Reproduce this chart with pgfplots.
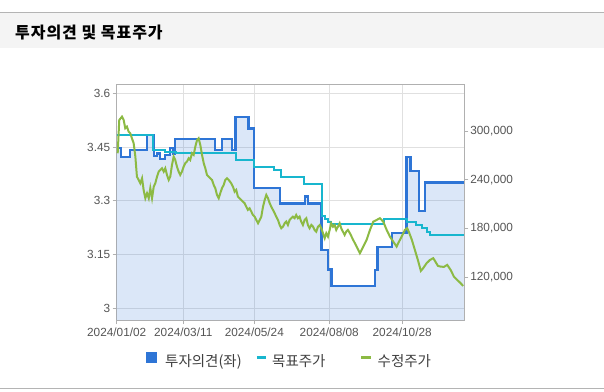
\documentclass[border=0pt]{standalone}
\usepackage{fontspec}
\setmainfont{Liberation Sans}
\newfontfamily\kr{Noto Sans CJK KR}
\usepackage{pgfplots}
\pgfplotsset{compat=1.18}
\definecolor{opblue}{RGB}{46,117,214}
\definecolor{tpcyan}{RGB}{24,182,206}
\definecolor{prgreen}{RGB}{140,186,68}
\definecolor{gridc}{RGB}{224,224,224}
\definecolor{framec}{RGB}{176,176,176}
\definecolor{tickc}{RGB}{85,85,85}
\definecolor{bandc}{RGB}{244,244,244}
\definecolor{linec}{RGB}{180,180,180}
\begin{document}
\begin{tikzpicture}
\path[use as bounding box, fill=white] (0,0) rectangle (604bp,-392bp);
\fill[bandc] (0,-12.5bp) rectangle (604bp,-48bp);
\draw[linec, line width=1bp] (0,-12.5bp) -- (604bp,-12.5bp);
\draw[linec, line width=1bp] (0,-388bp) -- (604bp,-388bp);
\node[anchor=west, inner sep=0] at (15bp,-32.5bp) {\kr\bfseries\fontsize{16bp}{18bp}\selectfont\addfontfeature{LetterSpace=6}투자의견 및 목표주가};
\begin{axis}[
  at={(116.7bp,-84.3bp)}, anchor=north west, scale only axis,
  width=347.6bp, height=235.7bp,
  xmin=0, xmax=244, ymin=2.968, ymax=3.625,
  xtick={0,46.7,96.6,149.2,200.4},
  xticklabels={2024/01/02,2024/03/11,2024/05/24,2024/08/08,2024/10/28},
  ytick={3,3.15,3.3,3.45,3.6},
  yticklabels={3,3.15,3.3,3.45,3.6},
  xtick pos=bottom, ytick pos=left, tick align=outside,
  major tick length=4bp,
  tick style={framec, line width=0.8bp},
  axis line style={framec, line width=0.9bp},
  xmajorgrids, ymajorgrids,
  major grid style={gridc, line width=0.8bp},
  ticklabel style={font=\fontsize{11.8bp}{13bp}\selectfont, text=tickc},
  yticklabel style={xshift=1bp},
  clip=true,
]
\addplot[const plot, draw=none, fill=opblue, fill opacity=0.17] coordinates {
(0,3.448) (2.8,3.422) (9.3,3.442) (21.3,3.484) (26.2,3.425) (28.3,3.432) (30.4,3.416) (33.9,3.428) (37.4,3.448) (39.5,3.432) (41.1,3.472) (69.0,3.442) (73.9,3.472) (80.9,3.442) (83.4,3.533) (92.6,3.502) (96.4,3.335) (114.6,3.293) (132.1,3.312) (134.3,3.293) (143.7,3.163) (148.1,3.109) (150.7,3.063) (181.3,3.107) (183.0,3.172) (193.4,3.211) (203.5,3.422) (206.3,3.383) (212.1,3.272) (216.4,3.351) (244,3.351)
} \closedcycle;
\addplot[const plot, opblue, line width=2.3bp] coordinates {
(0,3.448) (2.8,3.422) (9.3,3.442) (21.3,3.484) (26.2,3.425) (28.3,3.432) (30.4,3.416) (33.9,3.428) (37.4,3.448) (39.5,3.432) (41.1,3.472) (69.0,3.442) (73.9,3.472) (80.9,3.442) (83.4,3.533) (92.6,3.502) (96.4,3.335) (114.6,3.293) (132.1,3.312) (134.3,3.293) (143.7,3.163) (148.1,3.109) (150.7,3.063) (181.3,3.107) (183.0,3.172) (193.4,3.211) (203.5,3.422) (206.3,3.383) (212.1,3.272) (216.4,3.351) (244,3.351)
};
\end{axis}
\begin{axis}[
  at={(116.7bp,-84.3bp)}, anchor=north west, scale only axis,
  width=347.6bp, height=235.7bp,
  xmin=0, xmax=244, ymin=67500, ymax=357400,
  hide x axis,
  axis y line*=right,
  y axis line style={framec, line width=0.9bp, -},
  scaled y ticks=false,
  ytick={120000,180000,240000,300000},
  yticklabels={{120,000},{180,000},{240,000},{300,000}},
  tick align=outside, major tick length=4bp,
  tick style={framec, line width=0.8bp},
  ticklabel style={font=\fontsize{11.8bp}{13bp}\selectfont, text=tickc},
  yticklabel style={xshift=-1.5bp},
  legend style={at={(0.0843,-0.17)}, anchor=west, draw=none, fill=none,
    inner sep=0pt, outer sep=0pt,
    nodes={inner sep=0pt, outer sep=0pt},
    legend columns=3, font=\kr\fontsize{14.5bp}{16bp}\selectfont, text=black!75,
    /tikz/every odd column/.append style={column sep=5bp},
    /tikz/every even column/.append style={column sep=14bp}},
]
\addlegendimage{legend image code/.code={\fill[opblue] (0bp,-1bp) rectangle (10bp,9bp); \path[draw=none,fill=none] (14bp,4bp);}}
\addlegendentry{투자의견(좌)}
\addplot[const plot, tpcyan, line width=2bp,
  legend image code/.code={\draw[tpcyan, line width=2.5bp] (0bp,4bp) -- (9bp,4bp);}] coordinates {
(0,295100) (25.3,276600) (33.9,274600) (41.6,272600) (83.4,264500) (96.6,255500) (110.7,252000) (115.3,243800) (131.7,234800) (143.8,196000) (146.5,192000) (148.1,188500) (150.3,186000) (187.6,191400) (203.5,188500) (209.8,184400) (214.4,180400) (218,176200) (219.9,172100) (244,172100)
};
\addlegendentry{\makebox[74bp][l]{목표주가}}
\addplot[prgreen, line width=2bp,
  legend image code/.code={\draw[prgreen, line width=2.5bp] (0bp,4bp) -- (10bp,4bp);}] coordinates {
(0.7,272600) (1.8,313500) (3.7,317600) (4.9,313500) (6.0,303300) (7.2,305300) (8.4,299100) (9.5,297200) (10.7,291000) (11.9,284900) (13.1,268400) (14.2,243800) (15.4,239800) (16.6,235700) (17.8,241800) (18.9,227500) (20.1,217300) (21.3,223400) (22.5,217300) (23.6,229600) (24.8,217300) (26.0,231500) (27.1,235700) (28.3,243800) (29.5,250000) (30.6,252100) (31.8,254100) (33.0,250000) (34.1,254100) (35.3,245900) (36.5,239800) (37.6,243800) (38.8,258200) (40.0,268400) (41.1,264300) (42.3,256100) (43.5,250000) (44.6,245900) (45.8,250000) (47.0,256100) (48.1,260300) (49.3,262300) (50.5,266400) (51.6,264300) (52.8,272600) (54.0,270500) (55.2,280700) (56.4,288900) (57.5,291000) (58.7,282800) (59.9,270500) (61.1,260300) (62.2,254100) (63.4,245900) (64.6,243800) (65.7,241800) (66.9,239800) (68.1,233600) (69.2,229600) (70.4,221300) (71.6,217300) (72.7,223400) (73.9,229600) (75.1,233600) (76.2,239800) (77.4,241800) (78.6,239800) (80.4,235700) (81.6,231500) (82.8,225400) (83.9,227500) (85.1,219200) (87.4,215200) (88.6,213100) (89.8,211100) (90.9,206900) (92.1,202900) (93.3,204900) (94.5,200800) (95.6,196700) (96.8,194600) (98.0,190600) (99.2,186500) (100.4,190600) (101.5,194600) (102.7,206900) (103.9,215200) (105.0,221300) (106.2,217300) (107.4,211100) (108.5,206900) (109.7,202900) (110.9,198800) (112.0,194600) (113.2,190600) (114.4,184400) (115.5,180400) (116.7,182300) (117.9,186500) (119.0,188500) (120.2,184400) (121.4,190600) (122.5,192700) (123.7,194600) (124.9,192700) (126.0,196700) (127.2,192700) (128.4,194600) (129.5,188500) (130.7,184400) (131.9,190600) (133.1,192700) (134.2,184400) (135.4,180400) (136.6,184400) (137.8,182300) (138.9,178300) (140.1,176200) (141.3,182300) (142.5,184400) (143.6,180400) (144.8,174200) (146.0,168100) (147.1,174200) (148.3,170000) (149.5,178300) (150.6,186500) (151.8,182300) (153.0,184400) (154.1,178300) (155.3,182300) (156.5,186500) (157.6,180400) (158.8,176200) (160.0,172100) (161.1,176200) (162.3,178300) (163.7,174200) (166.0,166000) (168.4,157800) (170.7,149600) (173.1,157800) (175.4,166000) (177.8,178300) (180.1,188500) (182.5,190600) (184.8,192700) (187.1,188500) (189.5,178300) (191.8,170000) (194.1,163900) (196.5,157800) (197.6,161900) (200.0,170000) (202.3,178300) (203.9,180400) (205.1,175800) (207.2,166000) (209.3,153700) (211.4,141400) (213.5,127900) (215.3,131600) (217.5,137300) (219.9,141400) (222.2,143500) (223.4,140200) (225.5,134000) (227.4,133200) (229.7,132800) (232.0,135300) (234.4,129100) (236.7,120900) (239.0,116800) (241.4,112800) (243.2,109400)
};
\addlegendentry{수정주가}
\end{axis}
\end{tikzpicture}
\end{document}
